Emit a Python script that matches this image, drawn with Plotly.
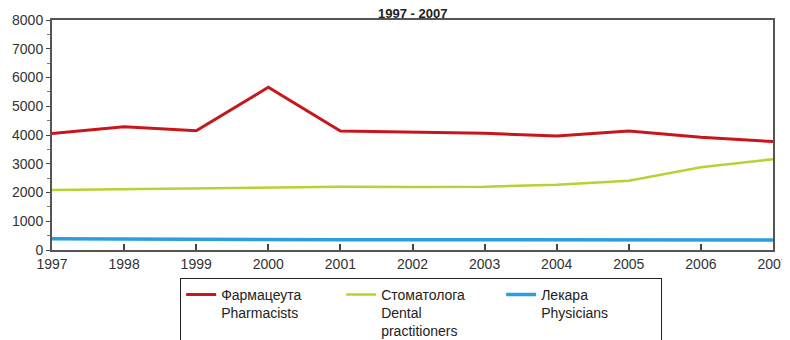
import plotly.graph_objects as go

years = [1997, 1998, 1999, 2000, 2001, 2002, 2003, 2004, 2005, 2006, 2007]
pharmacists = [4050, 4290, 4150, 5660, 4140, 4100, 4060, 3965, 4140, 3920, 3770]
dentists = [2090, 2120, 2160, 2170, 2200, 2190, 2200, 2270, 2410, 2880, 3160]
physicians = [390, 375, 365, 360, 355, 355, 350, 350, 350, 345, 345]

names = ['Фармацеута<br>Pharmacists', 'Стоматолога<br>Dental<br>practitioners', 'Лекара<br>Physicians']
colors = ['#c8161d', '#b4d334', '#2a9fe0']
widths = [3, 2.5, 3.5]

fig = go.Figure()
for vals, name, col, w in zip([pharmacists, dentists, physicians], names, colors, widths):
    fig.add_trace(go.Scatter(x=years, y=vals, name=name, mode='lines',
                             line=dict(color=col, width=w)))

# the page body adds an 8px offset, margins compensate for it
fig.update_layout(
    width=790, height=340,
    margin=dict(l=44, r=25, t=12, b=98, autoexpand=False),
    plot_bgcolor='white', paper_bgcolor='white',
    font=dict(family='Liberation Sans, Arial', size=14, color='#333333'),
    legend=dict(orientation='h', x=0.512, xanchor='center', y=0.206, yref='container',
                yanchor='top', bordercolor='#222222', borderwidth=1,
                font=dict(size=14, color='#222222'),
                itemwidth=30, valign='top', entrywidth=115, entrywidthmode='pixels'),
    showlegend=True,
)
# title as annotation so it sits just above the frame
fig.add_annotation(text='<b>1997 - 2007</b>', xref='paper', yref='paper', x=0.5, y=1,
                   xanchor='center', yanchor='bottom', yshift=-3, showarrow=False,
                   font=dict(size=13, color='#222222'))
fig.update_xaxes(range=[1997, 2007], dtick=1, showgrid=False, zeroline=False,
                 showline=True, linecolor='#555555', linewidth=2, mirror=True,
                 ticks='inside', ticklen=6, tickcolor='#444444', tickwidth=2)
fig.update_yaxes(range=[0, 8000], dtick=1000, showgrid=False, zeroline=False,
                 showline=True, linecolor='#555555', linewidth=2, mirror=True,
                 ticks='outside', ticklen=4, tickcolor='#444444',
                 minor=dict(dtick=500, ticks='outside', ticklen=3, tickcolor='#777777'))

fig.write_html('out.html')
